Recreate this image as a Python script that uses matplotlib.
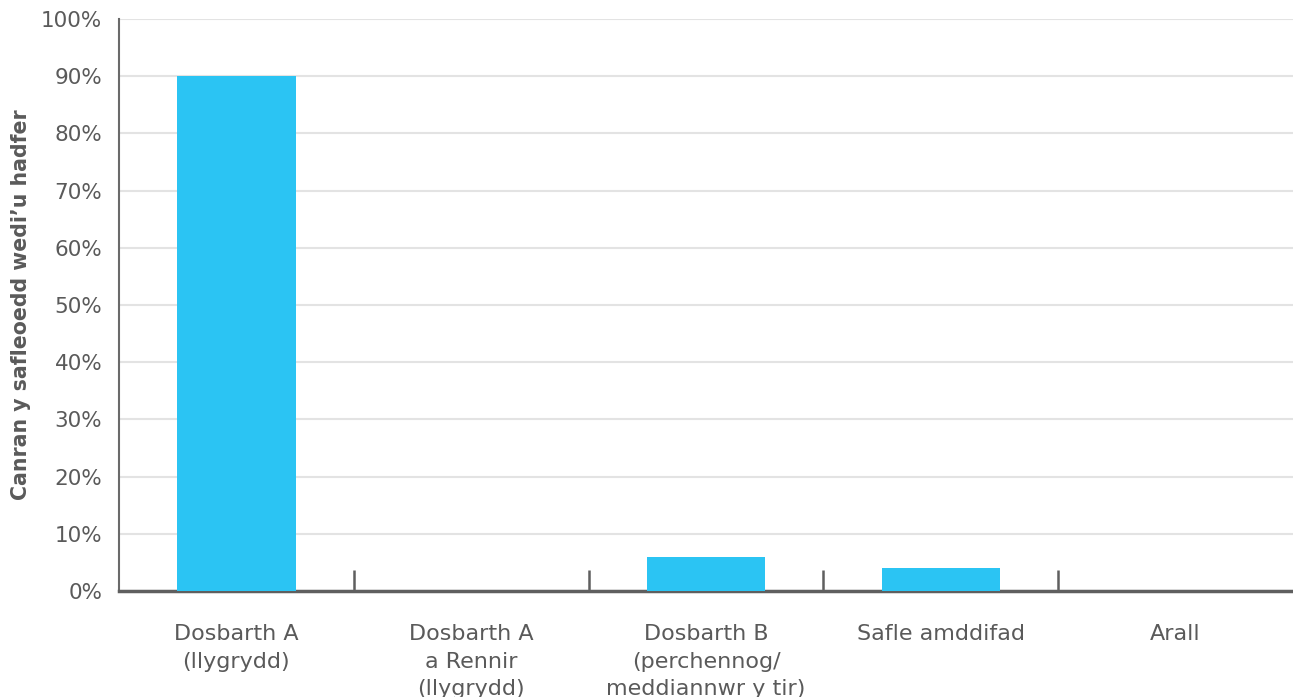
import matplotlib
matplotlib.use("Agg")
import matplotlib.pyplot as plt
import numpy as np

categories = ["Dosbarth A\n(llygrydd)", "Dosbarth A\na Rennir\n(llygrydd)",
              "Dosbarth B\n(perchennog/\nmeddiannwr y tir)", "Safle amddifad", "Arall"]
values = [90, 0, 6, 4, 0]
y_ticks = [0, 10, 20, 30, 40, 50, 60, 70, 80, 90, 100]

plt.rcParams['font.family'] = ['DejaVu Sans']
text_col = "#5a5a5a"
axis_col = "#5f5f5f"

fig = plt.figure(figsize=(12.93, 6.97), dpi=100)
ax = fig.add_axes([119/1293, 106/697, 1 - 119/1293, (591-19)/697])

x = np.arange(len(categories))
ax.bar(x, values, width=0.505, color="#2bc4f3", zorder=3)

ax.set_xlim(-0.5, len(categories) - 0.5)
ax.set_ylim(0, 100)
ax.set_yticks(y_ticks)
ax.set_yticklabels([f"{v}%" for v in y_ticks], fontsize=15.5, color=text_col)
ax.yaxis.grid(True, color="#e3e3e3", linewidth=1.5, zorder=0)
ax.tick_params(axis='y', length=0, pad=12)

ax.set_xticks(x)
ax.set_xticklabels(categories, fontsize=16, color=text_col, linespacing=1.46)
ax.tick_params(axis='x', which='major', length=0, pad=24)
ax.set_xticks(np.arange(0.5, len(categories) - 0.5), minor=True)
ax.tick_params(axis='x', which='minor', length=15, width=1.8, direction='in', color=axis_col)

for s in ["top", "right"]:
    ax.spines[s].set_visible(False)
ax.spines["left"].set_color("#6a6a6a")
ax.spines["left"].set_linewidth(1.5)
ax.spines["bottom"].set_color(axis_col)
ax.spines["bottom"].set_linewidth(2.5)

ax.set_ylabel("Canran y safleoedd wedi\u2019u hadfer", fontsize=14.8, fontweight='bold',
              color=text_col, labelpad=7)

fig.savefig("out.png", dpi=100)
